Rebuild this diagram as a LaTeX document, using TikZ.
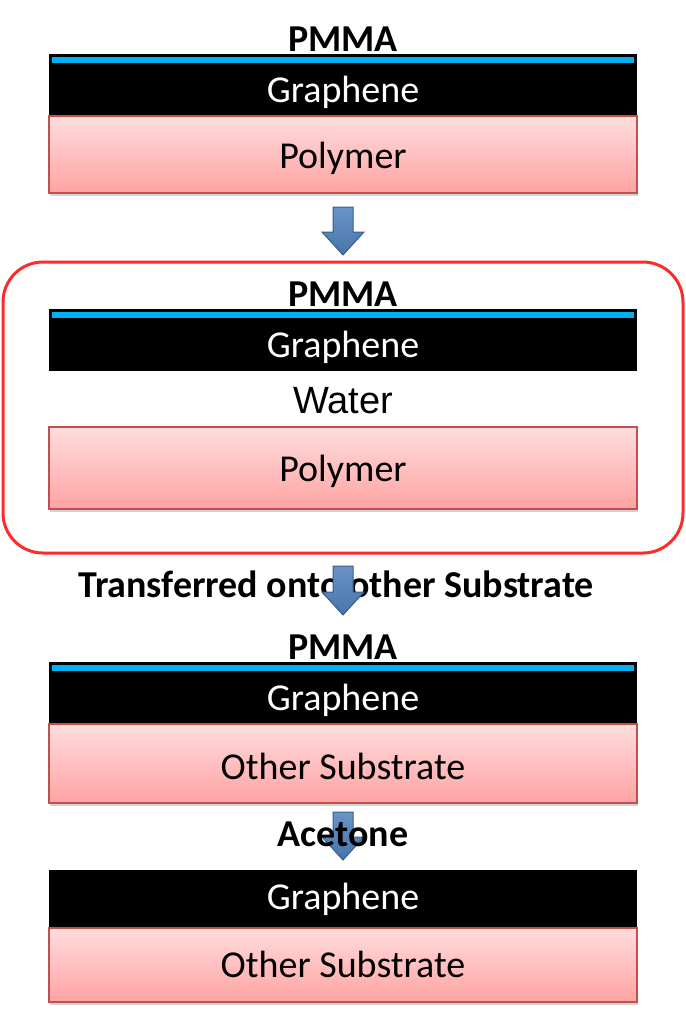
\documentclass[tikz,border=0pt]{standalone}
\usepackage{fontspec}
\setmainfont{Carlito}
\newfontfamily\arialfont{Liberation Sans}
\usetikzlibrary{shadows}
\definecolor{pmmablue}{HTML}{00B0F0}
\definecolor{pinktop}{HTML}{FFDCDC}
\definecolor{pinkbot}{HTML}{FFA3A3}
\definecolor{pinkedge}{HTML}{C0504D}
\definecolor{arrowfill}{HTML}{4F81BD}
\definecolor{arrowedge}{HTML}{385D8A}
\definecolor{boxred}{HTML}{FF2A2A}
\tikzset{
  grlayer/.style={fill=black, draw=none, minimum width=588pt, inner sep=0pt},
  pinklayer/.style={draw=pinkedge, line width=1.2pt, top color=pinktop, bottom color=pinkbot,
    minimum width=588pt, inner sep=0pt,
    drop shadow={opacity=0.35, shadow xshift=1pt, shadow yshift=-3pt}},
  pmmastrip/.style={fill=pmmablue, draw=none},
  bigtxt/.style={font=\fontsize{38}{42}\selectfont, inner sep=0pt},
  boldtxt/.style={font=\fontsize{38}{42}\selectfont\bfseries, inner sep=0pt},
  blockarrow/.style={draw=arrowedge, line width=1pt, top color=arrowfill!85!white, bottom color=arrowfill!90!black},
  roundframe/.style={draw=boxred, line width=3pt, rounded corners=40pt},
}
\begin{document}
\begin{tikzpicture}[x=1pt,y=-1pt]
\useasboundingbox (0,0) rectangle (686,1013);
\fill[white] (0,0) rectangle (686,1013);

% ---- stack 1
\node[boldtxt] (pmma1) at (343,39) {PMMA};
\node[grlayer, minimum height=62pt] (gr1) at (343,85) {};
\fill[pmmablue] (52,57) rectangle (634,63);
\node[bigtxt, text=white] (gr1t) at (343,92.5) {Graphene};
\node[pinklayer, minimum height=77pt] (po1) at (343,154.5) {};
\node[bigtxt] (po1t) at (343,158) {Polymer};

% arrow 1
\draw[blockarrow] (333,207) -- (353,207) -- (353,232) -- (364,232) -- (343,255) -- (322,232) -- (333,232) -- cycle;

% ---- stack 2 (framed)
\draw[roundframe] (3,262) rectangle (683,553);
\node[boldtxt] (pmma2) at (343,294) {PMMA};
\node[grlayer, minimum height=62pt] (gr2) at (343,340) {};
\fill[pmmablue] (52,312) rectangle (634,318);
\node[bigtxt, text=white] (gr2t) at (343,347.5) {Graphene};
\node[bigtxt, font=\arialfont\fontsize{38}{42}\selectfont] (water) at (343,401) {Water};
\node[pinklayer, minimum height=82pt] (po2) at (343,468) {};
\node[bigtxt] (po2t) at (343,471) {Polymer};

% arrow 2
\node[boldtxt] (transf) at (336,584.5) {Transferred onto other Substrate};
\draw[blockarrow] (333,566) -- (353,566) -- (353,592) -- (364,592) -- (343,615) -- (322,592) -- (333,592) -- cycle;

% ---- stack 3
\node[boldtxt] (pmma3) at (343,647) {PMMA};
\node[grlayer, minimum height=62pt] (gr3) at (343,693) {};
\fill[pmmablue] (52,665) rectangle (634,671);
\node[bigtxt, text=white] (gr3t) at (343,700.5) {Graphene};
\node[pinklayer, minimum height=79pt] (sub3) at (343,763.5) {};
\node[bigtxt] (sub3t) at (343,766) {Other Substrate};

% arrow 3
\draw[blockarrow] (333,812) -- (353,812) -- (353,837) -- (364,837) -- (343,860) -- (322,837) -- (333,837) -- cycle;
\node[boldtxt] (acet) at (343,834.5) {Acetone};

% ---- stack 4
\node[grlayer, minimum height=58pt] (gr4) at (343,899) {};
\node[bigtxt, text=white] (gr4t) at (343,899.5) {Graphene};
\node[pinklayer, minimum height=74pt] (sub4) at (343,965) {};
\node[bigtxt] (sub4t) at (343,964) {Other Substrate};
\end{tikzpicture}
\end{document}
